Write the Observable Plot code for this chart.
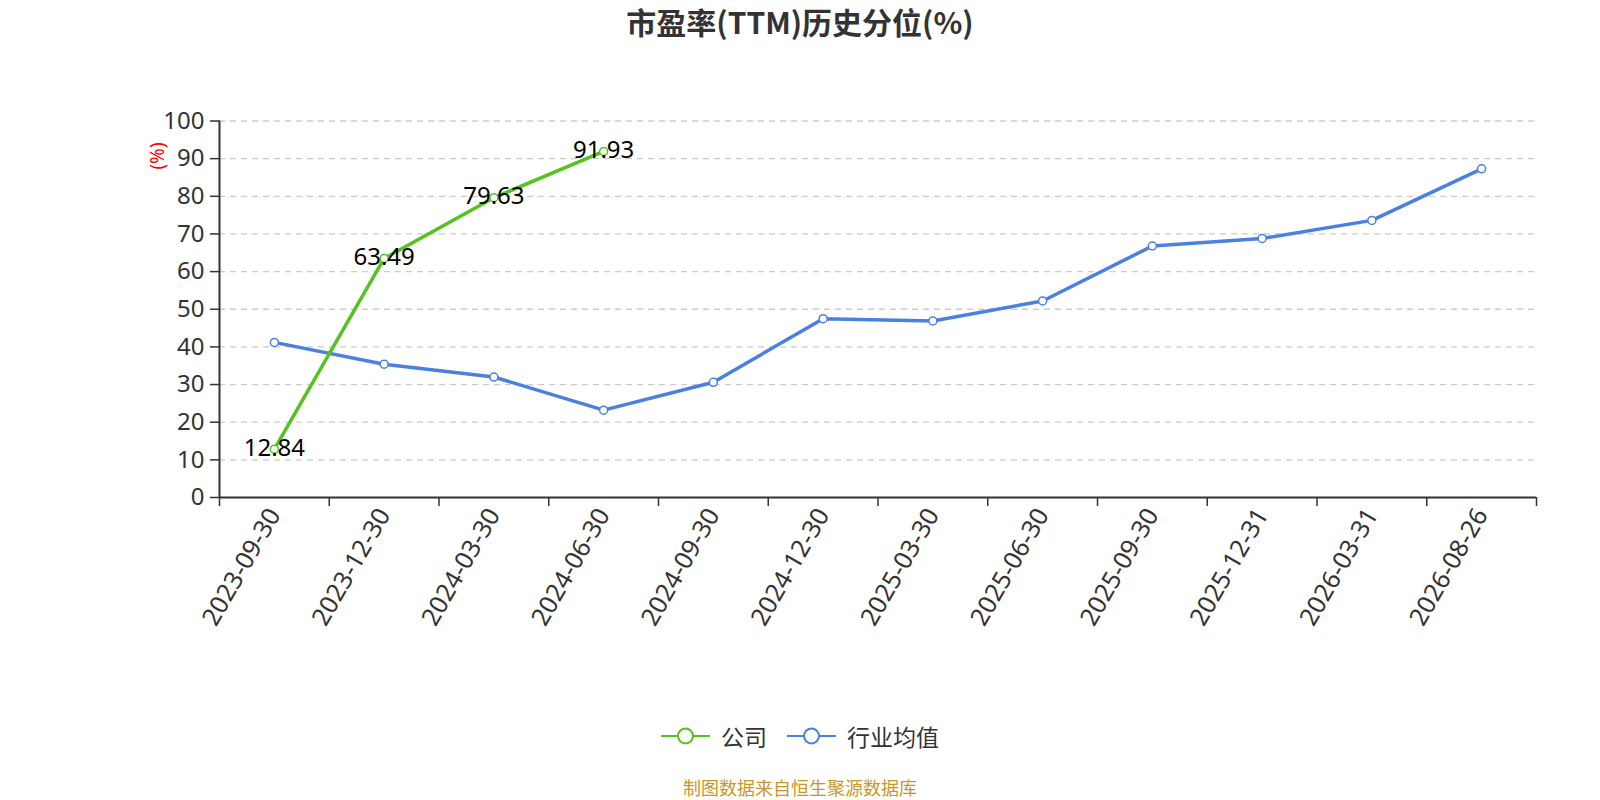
<!DOCTYPE html>
<html>
<head>
<meta charset="utf-8">
<script src="https://cdn.jsdelivr.net/npm/d3@7"></script>
<script src="https://cdn.jsdelivr.net/npm/@observablehq/plot@0.6"></script>
<style>
  html, body { margin: 0; padding: 0; background: #fff; }
  body { width: 1600px; height: 800px; position: relative; overflow: hidden;
         font-family: "Noto Sans", "Noto Sans CJK SC", sans-serif; }
  #chart { position: absolute; left: 0; top: 0; }
  #title { position: absolute; left: 0; width: 1600px; top: 6px; text-align: center;
           font-size: 30px; line-height: 30px; font-weight: bold; color: #333;
           font-family: "Noto Sans CJK SC", "Noto Sans", sans-serif; }
  #ylabel { position: absolute; left: 157px; top: 155.5px; color: red; font-size: 19px; line-height: 19px;
            transform: translate(-50%, -50%) rotate(-90deg); white-space: nowrap; }
  #legend { position: absolute; left: 0; width: 1600px; top: 722px; height: 28px; display: flex;
            justify-content: center; align-items: center; font-size: 23px; color: #333;
            font-family: "Noto Sans CJK SC", "Noto Sans", sans-serif; }
  .item { display: flex; align-items: center; }
  .item + .item { margin-left: 20px; }
  .item svg { margin-right: 11px; display: block; }
  #caption { position: absolute; left: 0; width: 1600px; top: 777px; text-align: center;
             font-size: 18px; line-height: 20px; color: #c9962c;
             font-family: "Noto Sans CJK SC", "Noto Sans", sans-serif; }
</style>
</head>
<body>
<div id="chart"></div>
<div id="title">市盈率(TTM)历史分位(%)</div>
<div id="ylabel">(%)</div>
<div id="legend"></div>
<div id="caption">制图数据来自恒生聚源数据库</div>
<script>
const categories = ["2023-09-30","2023-12-30","2024-03-30","2024-06-30","2024-09-30","2024-12-30",
                    "2025-03-30","2025-06-30","2025-09-30","2025-12-31","2026-03-31","2026-08-26"];
const companyValues = [12.84, 63.49, 79.63, 91.93];
const industryValues = [41.2, 35.4, 32.0, 23.2, 30.6, 47.5, 46.9, 52.2, 66.8, 68.8, 73.6, 87.3];
const yTicks = [0,10,20,30,40,50,60,70,80,90,100];
const seriesNames = ["公司", "行业均值"];
const colors = ["#56c21f", "#4a80e0"];

const company = companyValues.map((v, i) => ({i, v}));
const industry = industryValues.map((v, i) => ({i, v}));
const idx = categories.map((_, i) => i);
const bounds = d3.range(categories.length + 1).map(i => i - 0.5);

const chart = Plot.plot({
  width: 1600,
  height: 700,
  marginTop: 120.5,
  marginLeft: 219,
  marginRight: 64,
  marginBottom: 203,
  style: {fontFamily: "'Noto Sans', 'Noto Sans CJK SC', sans-serif", fontSize: "24px", color: "#333", background: "#fff", maxWidth: "none"},
  x: {type: "linear", domain: [-0.5, categories.length - 0.5]},
  y: {domain: [0, 100]},
  marks: [
    Plot.gridY(yTicks.filter(t => t > 0), {stroke: "#ccc", strokeOpacity: 1, strokeDasharray: "6,5", strokeWidth: 1.3}),
    Plot.axisY(yTicks, {tickSize: 9, tickPadding: 6, tickFormat: d => d, stroke: "#333", strokeWidth: 1.5, fontSize: 24, fill: "#333", label: null}),
    Plot.axisX(bounds, {tickSize: 9, tickFormat: () => "", stroke: "#333", strokeWidth: 1.5, label: null}),
    Plot.axisX(idx, {tickSize: 0, tickPadding: 13, tickRotate: -60, tickFormat: i => categories[i], fontSize: 25, label: null, fill: "#333"}),
    Plot.ruleX([-0.5], {stroke: "#333", strokeWidth: 2}),
    Plot.ruleY([0], {stroke: "#333", strokeWidth: 2}),
    Plot.line(industry, {x: "i", y: "v", stroke: colors[1], strokeWidth: 3.5}),
    Plot.line(company, {x: "i", y: "v", stroke: colors[0], strokeWidth: 3.5}),
    Plot.dot(industry, {x: "i", y: "v", r: 4, fill: "#fff", stroke: colors[1], strokeWidth: 1.5}),
    Plot.dot(company, {x: "i", y: "v", r: 4, fill: "#fff", stroke: colors[0], strokeWidth: 1.5}),
    Plot.text(company, {x: "i", y: "v", text: d => d.v.toFixed(2), fill: "#000", fontSize: 24, dy: -1})
  ]
});
document.getElementById("chart").appendChild(chart);

const legend = document.getElementById("legend");
seriesNames.forEach((name, k) => {
  const item = document.createElement("div");
  item.className = "item";
  item.innerHTML = `<svg width="49" height="20"><line x1="0" y1="10" x2="49" y2="10" stroke="${colors[k]}" stroke-width="2"/><circle cx="24.5" cy="10" r="7.5" fill="#fff" stroke="${colors[k]}" stroke-width="2"/></svg><span>${name}</span>`;
  legend.appendChild(item);
});
</script>
</body>
</html>
